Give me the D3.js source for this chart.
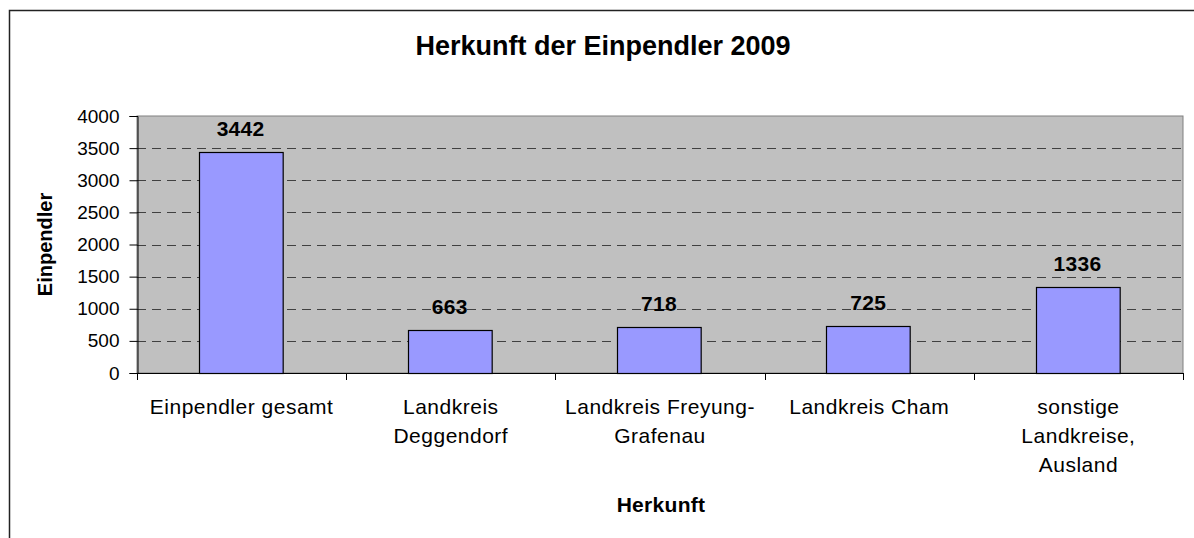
<!DOCTYPE html>
<html>
<head>
<meta charset="utf-8">
<script src="https://cdn.jsdelivr.net/npm/d3@7"></script>
<style>
  body { margin: 0; background: #fff; }
  svg { font-family: "Liberation Sans", Arial, sans-serif; }
</style>
</head>
<body>
<div id="chart"></div>
<script>
// data
var categories = ['Einpendler gesamt', 'Landkreis Deggendorf', 'Landkreis Freyung-Grafenau', 'Landkreis Cham', 'sonstige Landkreise, Ausland'];
var labelLines = [['Einpendler gesamt'], ['Landkreis', 'Deggendorf'], ['Landkreis Freyung-', 'Grafenau'], ['Landkreis Cham'], ['sonstige', 'Landkreise,', 'Ausland']];
var values = [3442, 663, 718, 725, 1336];
var yTicks = [0, 500, 1000, 1500, 2000, 2500, 3000, 3500, 4000];

var width = 1194, height = 538;
var plot = { left: 137, top: 116, right: 1183, bottom: 373 };

var svg = d3.select('#chart').append('svg')
  .attr('width', width)
  .attr('height', height);

// outer chart border (runs off the right and bottom edge)
svg.append('rect')
  .attr('x', 9.5).attr('y', 10.5)
  .attr('width', 1300).attr('height', 700)
  .attr('fill', '#fff')
  .attr('stroke', '#222')
  .attr('stroke-width', 1.5);

var x = d3.scaleBand()
  .domain(categories)
  .range([plot.left, plot.right])
  .padding(0);

var y = d3.scaleLinear()
  .domain([0, 4000])
  .range([plot.bottom, plot.top]);

// plot area
svg.append('rect')
  .attr('x', plot.left).attr('y', plot.top)
  .attr('width', plot.right - plot.left)
  .attr('height', plot.bottom - plot.top)
  .attr('fill', '#c0c0c0')
  .attr('stroke', '#808080')
  .attr('stroke-width', 1);

// dashed gridlines
svg.append('g').selectAll('line')
  .data(yTicks.filter(function(d) { return d > 0 && d < 4000; }))
  .enter().append('line')
  .attr('x1', plot.left).attr('x2', plot.right)
  .attr('y1', function(d) { return Math.round(y(d)) + 0.5; })
  .attr('y2', function(d) { return Math.round(y(d)) + 0.5; })
  .attr('stroke', '#404040')
  .attr('stroke-dasharray', '9,6');

// bars
var barW = x.bandwidth() * 0.4;
svg.append('g').selectAll('rect')
  .data(values)
  .enter().append('rect')
  .attr('x', function(d, i) { return Math.round(x(categories[i]) + (x.bandwidth() - barW) / 2) - 0.5; })
  .attr('y', function(d) { return Math.round(y(d)) + 0.5; })
  .attr('width', barW)
  .attr('height', function(d) { return Math.round(y(0)) - Math.round(y(d)); })
  .attr('fill', '#9999ff')
  .attr('stroke', '#000')
  .attr('stroke-width', 1.2);

// value labels
svg.append('g').selectAll('text')
  .data(values)
  .enter().append('text')
  .attr('x', function(d, i) { return x(categories[i]) + x.bandwidth() / 2 - 1; })
  .attr('y', function(d) { return y(d) - 16; })
  .attr('text-anchor', 'middle')
  .style('font-size', '21px')
  .style('font-weight', 'bold')
  .style('letter-spacing', '0.3px')
  .text(function(d) { return d; });

// y axis
var yAxis = svg.append('g')
  .attr('transform', 'translate(' + (plot.left + 0.5) + ',0)')
  .call(d3.axisLeft(y).tickValues(yTicks).tickSize(8).tickPadding(10).tickFormat(d3.format('d')));
yAxis.select('.domain').attr('stroke', '#000');
yAxis.selectAll('.tick line').attr('stroke', '#000');
yAxis.selectAll('.tick text')
  .style('font-size', '19px')
  .style('font-family', '"Liberation Sans", Arial, sans-serif')
  .attr('fill', '#000');

// x axis: ticks at category boundaries
var xAxisG = svg.append('g');
xAxisG.append('line')
  .attr('x1', plot.left).attr('x2', plot.right)
  .attr('y1', plot.bottom + 0.5).attr('y2', plot.bottom + 0.5)
  .attr('stroke', '#000');
xAxisG.selectAll('line.tk')
  .data(categories.concat(['end']))
  .enter().append('line')
  .attr('class', 'tk')
  .attr('x1', function(d, i) { return Math.round(i < categories.length ? x(d) : plot.right) + 0.5; })
  .attr('x2', function(d, i) { return Math.round(i < categories.length ? x(d) : plot.right) + 0.5; })
  .attr('y1', plot.bottom).attr('y2', plot.bottom + 7)
  .attr('stroke', '#000');

// category labels
var catG = svg.append('g').selectAll('text')
  .data(categories)
  .enter().append('text')
  .attr('text-anchor', 'middle')
  .style('font-size', '21px')
  .style('letter-spacing', '0.5px');
catG.each(function(d, i) {
  var t = d3.select(this);
  labelLines[i].forEach(function(line, j) {
    t.append('tspan')
      .attr('x', x(d) + x.bandwidth() / 2)
      .attr('y', 414 + j * 29)
      .text(line);
  });
});

// titles
svg.append('text')
  .attr('x', 603).attr('y', 55)
  .attr('text-anchor', 'middle')
  .style('font-size', '27px')
  .style('font-weight', 'bold')
  .text('Herkunft der Einpendler 2009');

svg.append('text')
  .attr('x', 661).attr('y', 512)
  .attr('text-anchor', 'middle')
  .style('font-size', '21px')
  .style('font-weight', 'bold')
  .style('letter-spacing', '0.3px')
  .text('Herkunft');

svg.append('text')
  .attr('transform', 'translate(52,' + ((plot.top + plot.bottom) / 2) + ') rotate(-90)')
  .attr('text-anchor', 'middle')
  .style('font-size', '20px')
  .style('font-weight', 'bold')
  .text('Einpendler');
</script>
</body>
</html>
